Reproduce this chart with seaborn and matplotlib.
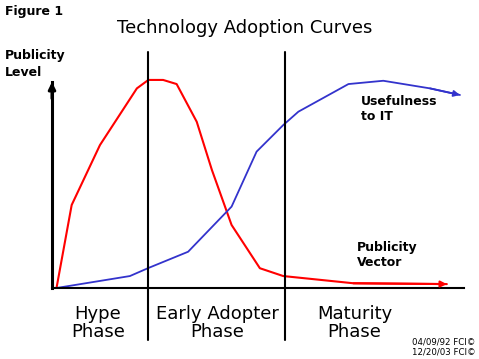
import matplotlib
matplotlib.use("Agg")
import matplotlib.pyplot as plt
import seaborn as sns
import pandas as pd

# ---- data ----
time_red = [1.1, 4.8, 11.7, 20.7, 23.5, 27.1, 30.4, 35.3, 39.0, 43.8, 50.7, 56.4, 73.5, 96.3]
publicity = [0, 40.3, 69.4, 96.9, 101, 101, 99, 80.7, 57.3, 30.6, 9.6, 5.8, 2.3, 1.9]
time_blue = [1.1, 19.0, 23.5, 33.2, 43.8, 49.9, 56.4, 60.1, 72.3, 80.8, 92.2, 99.5]
usefulness = [0, 5.8, 9.7, 17.6, 39.5, 66.2, 79.1, 85.6, 99.0, 100.6, 96.9, 93.7]
phase_bounds = [23.4, 56.8]
phase_labels = ["Hype\nPhase", "Early Adopter\nPhase", "Maturity\nPhase"]
phase_centers = [11.2, 40.4, 73.8]

RED = "#FF0000"
BLUE = "#3333CC"

sns.set_style("white")
plt.rcParams["font.family"] = ["DejaVu Sans"]
plt.rcParams["text.color"] = "black"

W, H = 479, 359
fig = plt.figure(figsize=(W / 100, H / 100), dpi=100)
fig.patch.set_facecolor("white")

def fx(x):
    return x / W

def fy(y):
    return 1 - y / H

# axes: origin at pixel (52, 288), top at 82, right at 462
ax = fig.add_axes([fx(52), fy(288), (462 - 52) / W, (288 - 82) / H])
ax.set_xlim(0, 100)
ax.set_ylim(0, 100)
ax.set_xticks([])
ax.set_yticks([])
ax.set_facecolor("white")
for s in ["top", "right"]:
    ax.spines[s].set_visible(False)
ax.spines["left"].set_linewidth(2.2)
ax.spines["bottom"].set_linewidth(1.5)
ax.spines["left"].set_color("black")
ax.spines["bottom"].set_color("black")
ax.spines["bottom"].set_bounds(0, 100.5)

red_df = pd.DataFrame({"t": time_red, "v": publicity})
blue_df = pd.DataFrame({"t": time_blue, "v": usefulness})

sns.lineplot(data=red_df, x="t", y="v", sort=False, color=RED, lw=1.5, ax=ax, clip_on=False)
sns.lineplot(data=blue_df, x="t", y="v", sort=False, color=BLUE, lw=1.3, ax=ax, clip_on=False)
ax.set_xlabel("")
ax.set_ylabel("")

# arrowheads at curve ends
ax.annotate("", xy=(time_red[-1], publicity[-1]), xytext=(time_red[-2], publicity[-2]),
            arrowprops=dict(arrowstyle="-|>", color=RED, lw=1.5, mutation_scale=9,
                            shrinkA=0, shrinkB=0), annotation_clip=False)
ax.annotate("", xy=(time_blue[-1], usefulness[-1]), xytext=(time_blue[-2], usefulness[-2]),
            arrowprops=dict(arrowstyle="-|>", color=BLUE, lw=1.3, mutation_scale=9,
                            shrinkA=0, shrinkB=0), annotation_clip=False)
# y-axis arrow
ax.annotate("", xy=(0, 100), xytext=(0, 92),
            arrowprops=dict(arrowstyle="-|>", color="black", lw=2.2, mutation_scale=10,
                            shrinkA=0, shrinkB=0), annotation_clip=False)

# phase boundary lines
for b in phase_bounds:
    ax.plot([b, b], [114.6, -25.2], color="black", lw=1.5, clip_on=False)

# phase labels
for c, lab in zip(phase_centers, phase_labels):
    ax.text(c, -17, lab, ha="center", va="center", fontsize=13, color="black",
            linespacing=1.0, clip_on=False)

# texts
fig.text(fx(5), fy(12), "Figure 1", fontsize=9, fontweight="bold", ha="left", va="center",
         color="black")
fig.text(fx(245), fy(28), "Technology Adoption Curves", fontsize=13, ha="center",
         va="center", color="black")
fig.text(fx(5), fy(64), "Publicity\nLevel", fontsize=9, fontweight="bold", ha="left",
         va="center", linespacing=1.3, color="black")
fig.text(fx(361), fy(109), "Usefulness\nto IT", fontsize=9, fontweight="bold", ha="left",
         va="center", linespacing=1.25, color="black")
fig.text(fx(357), fy(255), "Publicity\nVector", fontsize=9, fontweight="bold", ha="left",
         va="center", linespacing=1.25, color="black")
fig.text(fx(412), fy(347), "04/09/92 FCI\u00a9\n12/20/03 FCI\u00a9", fontsize=6.2, ha="left",
         va="center", linespacing=1.15, color="black")

fig.savefig("out.png", dpi=100, facecolor="white")
